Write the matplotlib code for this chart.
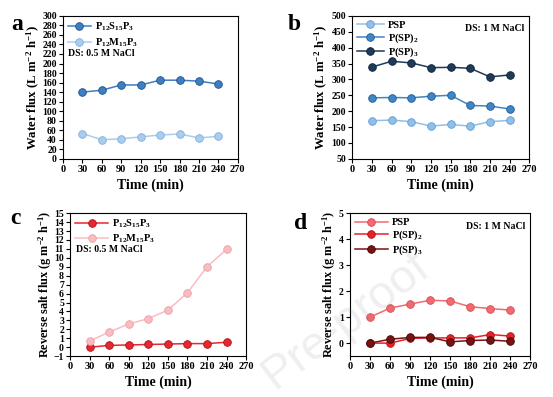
import numpy as np
import matplotlib
matplotlib.use("Agg")
import matplotlib.pyplot as plt
from matplotlib.ticker import MultipleLocator

plt.rcParams['font.family'] = ['Liberation Serif', 'DejaVu Serif']
plt.rcParams['font.weight'] = 'bold'
plt.rcParams['mathtext.fontset'] = 'custom'
plt.rcParams['mathtext.rm'] = 'Liberation Serif:bold'
plt.rcParams['mathtext.bf'] = 'Liberation Serif:bold'
plt.rcParams['mathtext.it'] = 'Liberation Serif:bold'
plt.rcParams['mathtext.default'] = 'regular'

# data
time = [30, 60, 90, 120, 150, 180, 210, 240]

a_s15 = [140, 144, 155, 155, 165, 165, 163, 157]
a_m15 = [53, 40, 42, 46, 50, 52, 44, 47]

b_psp = [170, 172, 167, 153, 158, 153, 167, 171]
b_sp2 = [242, 243, 242, 247, 250, 218, 216, 207]
b_sp3 = [339, 357, 352, 337, 338, 335, 308, 314]

c_s15 = [0.0, 0.2, 0.25, 0.3, 0.35, 0.4, 0.4, 0.55]
c_m15 = [0.7, 1.7, 2.6, 3.2, 4.15, 6.1, 9.0, 10.95]

d_psp = [1.0, 1.35, 1.5, 1.65, 1.62, 1.4, 1.33, 1.27]
d_sp2 = [0.0, 0.0, 0.18, 0.2, 0.2, 0.2, 0.33, 0.27]
d_sp3 = [0.0, 0.15, 0.22, 0.22, 0.05, 0.1, 0.12, 0.07]

lbl_s15 = r'P$_{12}$S$_{15}$P$_{3}$'
lbl_m15 = r'P$_{12}$M$_{15}$P$_{3}$'

fig = plt.figure(figsize=(5.53, 3.97), dpi=100)
fig.patch.set_facecolor('white')

ax_a = fig.add_axes([0.114, 0.600, 0.316, 0.360])
ax_b = fig.add_axes([0.637, 0.600, 0.320, 0.360])
ax_c = fig.add_axes([0.127, 0.103, 0.318, 0.360])
ax_d = fig.add_axes([0.633, 0.103, 0.326, 0.360])


def series(ax, y, color, label, edge):
    ax.plot(time, y, '-o', color=color, lw=1.1, ms=5.5, mfc=color,
            mec=edge, mew=0.6, label=label)


def style(ax, ylim, ystep, ylabel, ylab_x, ylab_size):
    ax.set_xlim(0, 270)
    ax.set_ylim(*ylim)
    ax.xaxis.set_major_locator(MultipleLocator(30))
    ax.yaxis.set_major_locator(MultipleLocator(ystep))
    ax.tick_params(direction='out', length=3, width=0.8, labelsize=7, pad=1.5)
    ax.tick_params(axis='x', labelsize=7.5)
    for s in ax.spines.values():
        s.set_linewidth(0.8)
    ax.set_xlabel('Time (min)', fontsize=10, fontweight='bold', labelpad=3)
    ax.set_ylabel(ylabel, fontsize=ylab_size, fontweight='bold')
    ax.yaxis.set_label_coords(ylab_x, 0.5)
    ax.set_facecolor('none')


def legend(ax, hl, sp):
    ax.legend(loc='upper left', frameon=False, fontsize=7.5, handlelength=hl,
              borderaxespad=0.15, labelspacing=sp, handletextpad=0.4,
              borderpad=0.3)


wf = r'Water flux (L m$^{-2}$ h$^{-1}$)'
rsf = r'Reverse salt flux (g m$^{-2}$ h$^{-1}$)'

# a
series(ax_a, a_s15, '#3d7fc2', lbl_s15, '#1f4f86')
series(ax_a, a_m15, '#a9cdee', lbl_m15, '#80aedb')
style(ax_a, (0, 300), 20, wf, -0.12, 9.2)
legend(ax_a, 2.2, 0.3)
ax_a.text(0.03, 0.74, 'DS: 0.5 M NaCl', transform=ax_a.transAxes, fontsize=7,
          va='center')

# b
series(ax_b, b_psp, '#8fc0ea', 'PSP', '#5f9bd0')
series(ax_b, b_sp2, '#3f86c8', r'P(SP)$_2$', '#23598f')
series(ax_b, b_sp3, '#1f3b5a', r'P(SP)$_3$', '#0d1f33')
style(ax_b, (50, 500), 50, wf, -0.125, 9.2)
legend(ax_b, 2.6, 0.12)
ax_b.text(0.97, 0.94, 'DS: 1 M NaCl', transform=ax_b.transAxes, fontsize=7,
          ha='right', va='top')

# c
series(ax_c, c_s15, '#e82730', lbl_s15, '#a8121a')
series(ax_c, c_m15, '#f9bcc1', lbl_m15, '#eea0a6')
style(ax_c, (-1, 15), 1, rsf, -0.095, 8.8)
legend(ax_c, 3.2, 0.25)
ax_c.text(0.03, 0.73, 'DS: 0.5 M NaCl', transform=ax_c.transAxes, fontsize=7)

# d
series(ax_d, d_psp, '#f26a6f', 'PSP', '#d44a50')
series(ax_d, d_sp2, '#ea1f28', r'P(SP)$_2$', '#a8121a')
series(ax_d, d_sp3, '#7a1212', r'P(SP)$_3$', '#3f0606')
style(ax_d, (-0.5, 5), 1, rsf, -0.065, 8.8)
legend(ax_d, 3.2, 0.15)
ax_d.text(0.97, 0.94, 'DS: 1 M NaCl', transform=ax_d.transAxes, fontsize=7,
          ha='right', va='top')

# panel letters
fig.text(0.020, 0.925, 'a', fontsize=17, fontweight='bold')
fig.text(0.520, 0.925, 'b', fontsize=17, fontweight='bold')
fig.text(0.018, 0.437, 'c', fontsize=17, fontweight='bold')
fig.text(0.532, 0.422, 'd', fontsize=17, fontweight='bold')

# faint watermark
fig.text(0.625, 0.19, 'Pre-proof', fontsize=34, family='Liberation Sans',
         fontweight='normal', color='#7f7f7f', alpha=0.12, rotation=37,
         ha='center', va='center', zorder=10)

fig.savefig('out.png', dpi=100, facecolor='white')
